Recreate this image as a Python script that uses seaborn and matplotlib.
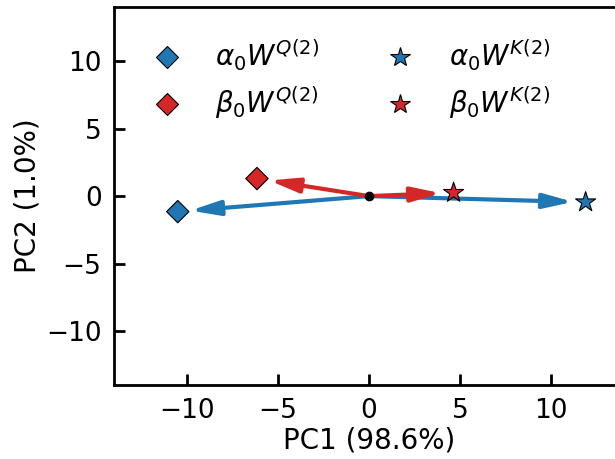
import numpy as np
import pandas as pd
import matplotlib
matplotlib.use('Agg')
import matplotlib.pyplot as plt
import seaborn as sns

# PCA coordinates of the four weight matrices
labels = [r'$\alpha_0W^{Q(2)}$', r'$\beta_0W^{Q(2)}$',
          r'$\alpha_0W^{K(2)}$', r'$\beta_0W^{K(2)}$']
pc1 = [-10.5, -6.15, 11.9, 4.65]
pc2 = [-1.15, 1.3, -0.45, 0.25]
colors = ['#1f77b4', '#d62728', '#1f77b4', '#d62728']
markers = ['D', 'D', '*', '*']

sns.set_theme(style='ticks')
plt.rcParams['font.family'] = ['DejaVu Sans']
plt.rcParams['mathtext.fontset'] = 'dejavusans'
for k in ['text.color', 'axes.labelcolor', 'xtick.color', 'ytick.color', 'axes.edgecolor']:
    plt.rcParams[k] = 'black'

df = pd.DataFrame({'pc1': pc1, 'pc2': pc2, 'label': labels})

fig = plt.figure(figsize=(6.15, 4.59), dpi=100)
ax = fig.add_axes([0.1854, 0.161, 0.829, 0.8235])

# arrows from the origin, blue first so red sits on top
for i in [0, 2, 1, 3]:
    ax.annotate('', xy=(pc1[i], pc2[i]), xytext=(0, 0),
                arrowprops=dict(arrowstyle='-|>,head_length=0.8,head_width=0.2',
                                color=colors[i], lw=3,
                                mutation_scale=22, shrinkA=0, shrinkB=9))

sizes = {'D': 130, '*': 230}
sns.scatterplot(data=df, x='pc1', y='pc2', hue='label', style='label',
                palette=dict(zip(labels, colors)),
                markers=dict(zip(labels, markers)),
                size='label', sizes=dict(zip(labels, [sizes[m] for m in markers])),
                edgecolor='black', linewidth=0.8, ax=ax, zorder=5, legend=False)

ax.plot(0, 0, 'o', color='black', markersize=6, zorder=6)

# legend
handles = [plt.Line2D([], [], marker=m, color=c, linestyle='', markeredgecolor='black',
                      markeredgewidth=0.8, markersize=(11 if m == 'D' else 15))
           for m, c in zip(markers, colors)]
ax.legend(handles, labels, ncol=2, loc='upper left', frameon=False, fontsize=20,
          bbox_to_anchor=(0.0, 0.985), handletextpad=0.75, columnspacing=1.9,
          labelspacing=0.42)

ax.set_xlim(-14, 14)
ax.set_ylim(-14, 14)
ax.set_xticks([-10, -5, 0, 5, 10])
ax.set_yticks([-10, -5, 0, 5, 10])
ax.tick_params(direction='in', length=8, width=2, labelsize=19, pad=9)
for s in ax.spines.values():
    s.set_linewidth(2)
ax.set_xlabel('PC1 (98.6%)', fontsize=20, labelpad=2)
ax.set_ylabel('PC2 (1.0%)', fontsize=20, labelpad=3)

fig.savefig('out.png', dpi=100)
